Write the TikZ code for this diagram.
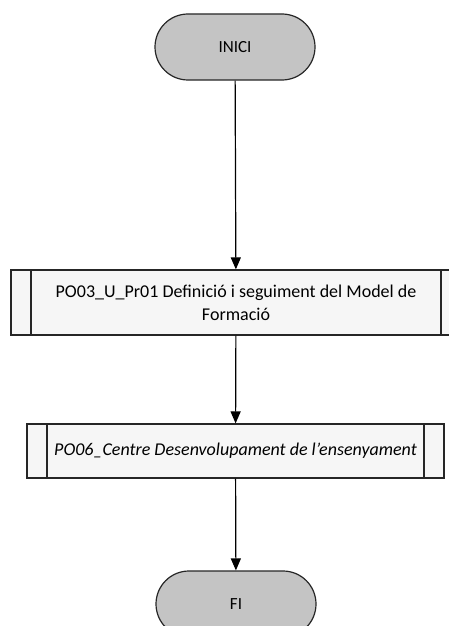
\documentclass[tikz,border=0pt]{standalone}
\usepackage{fontspec}
\setmainfont{Carlito}
\usetikzlibrary{arrows.meta}
\definecolor{termgray}{HTML}{C4C4C4}
\definecolor{procfill}{HTML}{F6F6F6}
\tikzset{
  terminal/.style={draw=black!85,line width=1.2pt,fill=termgray,rounded corners=33pt,
    minimum width=160pt,minimum height=66pt,font=\fontsize{17}{20}\selectfont},
  subproc/.style={draw=black!85,line width=1.2pt,fill=procfill,align=center,
    font=\fontsize{18}{23}\selectfont,
    path picture={
      \draw[line width=1.2pt,black!85]
        ([xshift=20pt]path picture bounding box.north west) -- ([xshift=20pt]path picture bounding box.south west)
        ([xshift=-20pt]path picture bounding box.north east) -- ([xshift=-20pt]path picture bounding box.south east);
    }},
  flow/.style={line width=1.2pt,-{Triangle[width=10pt,length=12pt]}}
}
\begin{document}
\begin{tikzpicture}[x=1pt,y=-1pt]
\useasboundingbox (0,0) rectangle (449,626);
\node [terminal] (inici) at (235,47) {INICI};
\node [subproc,minimum width=450pt,minimum height=65pt] (pr01) at (236,302.5)
  {PO03\_U\_Pr01 Definició i seguiment del Model de\\Formació};
\node [subproc,minimum width=417pt,minimum height=54pt,font=\fontsize{18}{23}\selectfont\itshape] (po06) at (235.5,451)
  {PO06\_Centre Desenvolupament de l’ensenyament};
\node [terminal] (fi) at (236,604) {FI};
\draw [flow] (inici) -- (pr01);
\draw [flow] (pr01) -- (po06);
\draw [flow] (po06) -- (fi);
\end{tikzpicture}
\end{document}
